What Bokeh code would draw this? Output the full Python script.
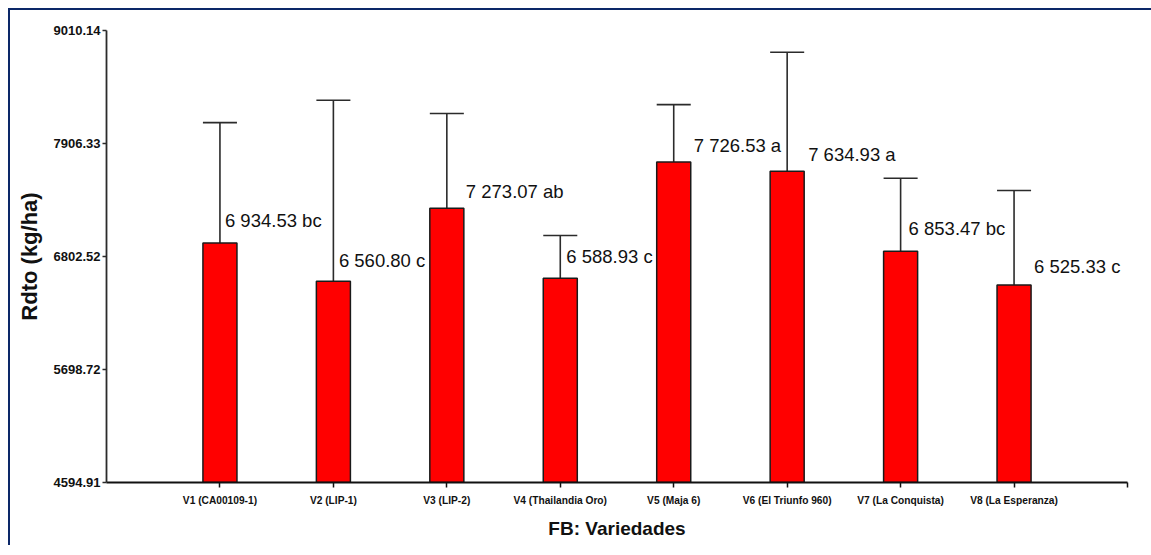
from bokeh.plotting import figure
from bokeh.models import Range1d, FixedTicker, PrintfTickFormatter, ColumnDataSource
from bokeh.embed import file_html
from bokeh.resources import INLINE
from bokeh.core.properties import value

# Yield (kg/ha) per rice variety, with upper error and Tukey grouping letters
varieties = ["V1 (CA00109-1)", "V2 (LIP-1)", "V3 (LIP-2)", "V4 (Thailandia Oro)",
             "V5 (Maja 6)", "V6 (El Triunfo 960)", "V7 (La Conquista)", "V8 (La Esperanza)"]
yield_means = [6934.53, 6560.80, 7273.07, 6588.93, 7726.53, 7634.93, 6853.47, 6525.33]
yield_err = [1176, 1768, 926, 418, 560, 1163, 713, 922]
tukey_groups = ["bc", "c", "ab", "c", "a", "a", "bc", "c"]
y_ticks = [4594.91, 5698.72, 6802.52, 7906.33, 9010.14]

# label placement (screen px): shift right of the stem, baseline above bar top
label_dx = [5, 5.5, 19, 6, 20, 21, 8, 20]
label_dy = [22, 21, 17, 22, 16, 17, 23, 18]

FONT = "Liberation Sans, Arial"

xs = list(range(1, len(varieties) + 1))
upper = [m + e for m, e in zip(yield_means, yield_err)]
labels = [f"{m:,.2f}".replace(",", " ") + " " + g for m, g in zip(yield_means, tukey_groups)]

src = ColumnDataSource(dict(
    x=xs, top=yield_means, upper=upper,
    cap_l=[x - 0.15 for x in xs], cap_r=[x + 0.15 for x in xs],
    label=labels, dx=label_dx, dy=[-d for d in label_dy],
))

p = figure(frame_width=1021, frame_height=452, output_backend="svg", toolbar_location=None,
           x_range=Range1d(0, 9), y_range=Range1d(y_ticks[0], y_ticks[-1]),
           min_border_left=96, min_border_right=24, min_border_top=20, min_border_bottom=63)
p.styles = {"border-left": "2px solid #0c2868", "border-top": "2px solid #0c2868",
            "margin-left": "8px", "margin-top": "8px"}
p.outline_line_color = None
p.grid.visible = False
p.background_fill_color = "white"
p.border_fill_color = "white"

# error bars: stem + cap
p.segment(x0="x", y0="top", x1="x", y1="upper", source=src, line_color="#2b2b2b", line_width=1.6)
p.segment(x0="cap_l", y0="upper", x1="cap_r", y1="upper", source=src, line_color="#2b2b2b", line_width=1.6)

p.vbar(x="x", top="top", bottom=y_ticks[0], width=0.3, source=src,
       fill_color="#ff0000", line_color="#1a1a1a", line_width=1.5)

p.text(x="x", y="top", text="label", source=src, x_offset="dx", y_offset="dy",
       text_font=value(FONT), text_font_size="18.5px", text_color="#111111",
       text_baseline="alphabetic", text_align="left")

# y axis
ya = p.yaxis[0]
ya.ticker = FixedTicker(ticks=y_ticks)
ya.formatter = PrintfTickFormatter(format="%.2f")
ya.minor_tick_line_color = None
ya.major_tick_in = 0
ya.major_tick_out = 4
ya.major_tick_line_width = 1.5
ya.axis_line_width = 1.8
ya.axis_line_color = "#2b2b2b"
ya.major_tick_line_color = "#2b2b2b"
ya.major_label_text_font = FONT
ya.major_label_text_font_style = "bold"
ya.major_label_text_font_size = "13px"
ya.major_label_text_color = "#111111"
ya.major_label_standoff = 2
ya.axis_label = "Rdto (kg/ha)"
ya.axis_label_text_font = FONT
ya.axis_label_text_font_style = "bold"
ya.axis_label_text_font_size = "22px"
ya.axis_label_text_color = "#111111"
ya.axis_label_standoff = 9

# x axis
xa = p.xaxis[0]
xa.ticker = FixedTicker(ticks=xs + [9])
xa.major_label_overrides = {**{x: v for x, v in zip(xs, varieties)}, 9: ""}
xa.minor_tick_line_color = None
xa.major_tick_in = 0
xa.major_tick_out = 5
xa.major_tick_line_width = 1.5
xa.axis_line_width = 2
xa.axis_line_color = "#111111"
xa.major_tick_line_color = "#111111"
xa.major_label_text_font = FONT
xa.major_label_text_font_style = "bold"
xa.major_label_text_font_size = "10.2px"
xa.major_label_text_color = "#111111"
xa.major_label_standoff = 7
xa.axis_label = "FB: Variedades"
xa.axis_label_text_font = FONT
xa.axis_label_text_font_style = "bold"
xa.axis_label_text_font_size = "19px"
xa.axis_label_text_color = "#111111"
xa.axis_label_standoff = 9

open("out.html", "w").write(file_html(p, INLINE))
